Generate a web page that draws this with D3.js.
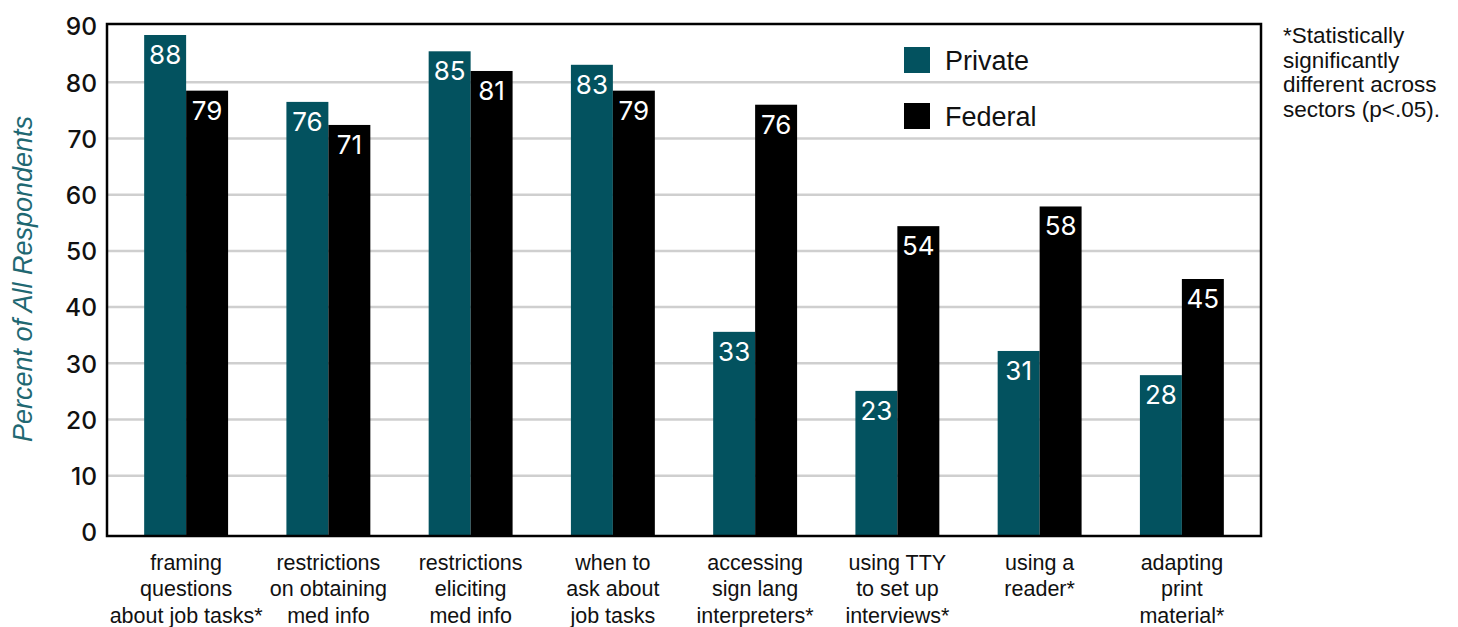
<!DOCTYPE html>
<html><head><meta charset="utf-8">
<script src="https://cdn.jsdelivr.net/npm/d3@7"></script>
<style>body{margin:0;background:#fff;}svg{display:block;}</style>
</head><body>
<svg id="chart" width="1458" height="627"></svg>
<script>
const categories = [
  ["framing","questions","about job tasks*"],
  ["restrictions","on obtaining","med info"],
  ["restrictions","eliciting","med info"],
  ["when to","ask about","job tasks"],
  ["accessing","sign lang","interpreters*"],
  ["using TTY","to set up","interviews*"],
  ["using a","reader*"],
  ["adapting","print","material*"]
];
const series = ["Private","Federal"];
// bar heights as drawn in the picture
const privateValues = [88.4, 76.5, 85.5, 83.1, 35.6, 25.1, 32.2, 27.9];
const federalValues = [78.5, 72.4, 82.0, 78.5, 76.0, 54.4, 57.9, 45.0];
// printed value labels
const privateLabels = [88, 76, 85, 83, 33, 23, 31, 28];
const federalLabels = [79, 71, 81, 79, 76, 54, 58, 45];
const yTicks = [0,10,20,30,40,50,60,70,80,90];
const yTitle = "Percent of All Respondents";
const footnote = ["*Statistically","significantly","different across","sectors (p<.05)."];

const colors = {Private:"#03525f", Federal:"#000000"};
const svg = d3.select("#chart");
const frame = {left:107, right:1261, top:24, bottom:536};

const y = d3.scaleLinear().domain([0,90]).range([532, 26]);
const ids = categories.map((c,i)=>"c"+i);
const x0 = d3.scaleBand().domain(ids).range([115,1253]).paddingInner(0.41).paddingOuter(0.205);
const x1 = d3.scaleBand().domain(series).range([0, x0.bandwidth()]);

// gridlines
svg.append("g").selectAll("line").data(yTicks.filter(t=>t>0 && t<90)).join("line")
  .attr("x1", frame.left).attr("x2", frame.right)
  .attr("y1", d=>y(d)).attr("y2", d=>y(d))
  .attr("stroke","#cfcfcf").attr("stroke-width",2.5);

// y tick labels via axis
const yAxis = d3.axisLeft(y).tickValues(yTicks).tickSize(0).tickPadding(0);
const ya = svg.append("g").attr("transform",`translate(97,0)`).call(yAxis);
ya.select(".domain").remove();
ya.selectAll("text").attr("font-family","Inter, 'Liberation Sans', sans-serif")
  .attr("font-weight",500).attr("font-size",24.5).attr("fill","#111").attr("dy","0.36em");

// legend
const legend = [{k:"Private", y:60},{k:"Federal", y:116}];
legend.forEach(l=>{
  svg.append("rect").attr("x",904).attr("y",l.y-13).attr("width",26).attr("height",26).attr("fill",colors[l.k]);
  svg.append("text").attr("x",945).attr("y",l.y).attr("dy","0.36em")
    .attr("font-family","'Liberation Sans', Arial, sans-serif").attr("font-size",27).attr("fill","#111").text(l.k);
});

// bars
const rows = categories.map((c,i)=>({id:ids[i], vals:[
  {s:"Private", v:privateValues[i], lab:privateLabels[i]},
  {s:"Federal", v:federalValues[i], lab:federalLabels[i]}]}));
const g = svg.append("g").selectAll("g").data(rows).join("g")
  .attr("transform", d=>`translate(${x0(d.id)},0)`);
g.selectAll("rect").data(d=>d.vals).join("rect")
  .attr("x", d=>x1(d.s)).attr("width", x1.bandwidth())
  .attr("y", d=>y(d.v)).attr("height", d=>frame.bottom - y(d.v))
  .attr("fill", d=>colors[d.s]);
g.selectAll("text").data(d=>d.vals).join("text")
  .attr("x", d=>x1(d.s)+x1.bandwidth()/2).attr("y", d=>y(d.v)+29)
  .attr("text-anchor","middle").attr("fill","#fff")
  .attr("font-family","Inter, 'Liberation Sans', sans-serif").attr("font-size",26)
  .text(d=>d.lab);

// frame
svg.append("rect").attr("x",frame.left).attr("y",frame.top)
  .attr("width",frame.right-frame.left).attr("height",frame.bottom-frame.top)
  .attr("fill","none").attr("stroke","#000").attr("stroke-width",2.5);

// category labels
const cl = svg.append("g").selectAll("text").data(rows.map((r,i)=>({id:r.id, lines:categories[i]}))).join("text")
  .attr("text-anchor","middle")
  .attr("font-family","'Liberation Sans', Arial, sans-serif").attr("font-size",21.5).attr("fill","#111")
  .attr("x", d=>x0(d.id)+x0.bandwidth()/2);
cl.selectAll("tspan").data(d=>d.lines.map(t=>({t, x:x0(d.id)+x0.bandwidth()/2}))).join("tspan")
  .attr("x", d=>d.x).attr("y",(d,i)=>562+i*26.5).attr("dy","0.36em").text(d=>d.t);

// y title
svg.append("text").attr("transform","translate(22,279) rotate(-90)")
  .attr("text-anchor","middle").attr("dy","0.36em")
  .attr("font-family","'Liberation Sans', Arial, sans-serif").attr("font-style","italic")
  .attr("font-size",27).attr("fill","#1f6872").text(yTitle);

// footnote
svg.append("g").selectAll("text").data(footnote).join("text")
  .attr("x",1283).attr("y",(d,i)=>35+i*24.5).attr("dy","0.36em")
  .attr("font-family","'Liberation Sans', Arial, sans-serif").attr("font-size",22.5).attr("fill","#111")
  .text(d=>d);
</script>
</body></html>
